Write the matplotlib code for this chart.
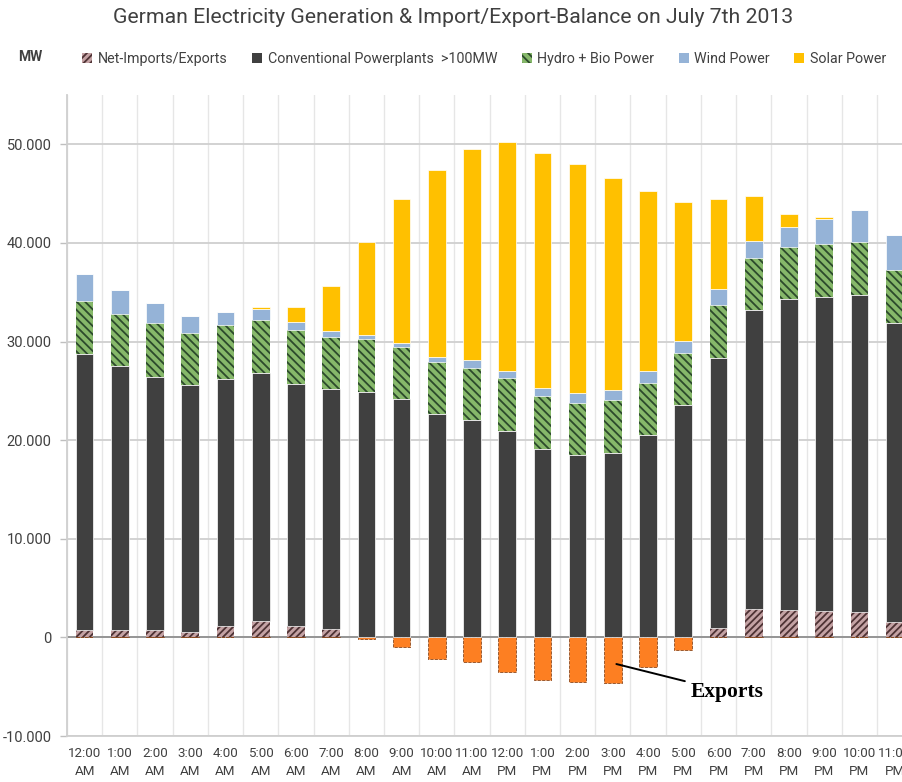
import numpy as np
import matplotlib as mpl
mpl.use('Agg')
import matplotlib.pyplot as plt
from matplotlib.patches import Patch
from matplotlib.ticker import FuncFormatter

# ── data (MW) ────────────────────────────────────────────────────────────────
hours = ['12:00\nAM', '1:00\nAM', '2:00\nAM', '3:00\nAM', '4:00\nAM', '5:00\nAM',
         '6:00\nAM', '7:00\nAM', '8:00\nAM', '9:00\nAM', '10:00\nAM', '11:00\nAM',
         '12:00\nPM', '1:00\nPM', '2:00\nPM', '3:00\nPM', '4:00\nPM', '5:00\nPM',
         '6:00\nPM', '7:00\nPM', '8:00\nPM', '9:00\nPM', '10:00\nPM', '11:00\nPM']

net_imports  = [800, 740, 740, 540, 1180, 1690, 1110, 840, -150, -1010, -2200, -2530,
                -3550, -4330, -4560, -4630, -3040, -1250, 910, 2870, 2800, 2700, 2530, 1580]
conventional = [27970, 26780, 25700, 25060, 25060, 25160, 24590, 24350, 24880, 24140, 22620, 22020,
                20930, 19080, 18470, 18670, 20530, 23540, 27460, 30290, 31550, 31810, 32220, 30330]
hydro_bio    = [5370, 5310, 5400, 5300, 5400, 5330, 5430, 5270, 5410, 5340, 5340, 5340,
                5370, 5400, 5340, 5400, 5310, 5260, 5330, 5340, 5270, 5340, 5370, 5330]
wind         = [2700, 2360, 2100, 1680, 1350, 1080, 890, 610, 410, 410, 470, 740,
                750, 850, 940, 990, 1170, 1250, 1590, 1650, 1980, 2600, 3240, 3520]
solar        = [0, 0, 0, 0, 0, 270, 1480, 4520, 9350, 14590, 18920, 21470,
                23160, 23810, 23300, 21550, 18240, 14120, 9190, 4590, 1290, 130, 0, 0]

y_ticks = [-10000, 0, 10000, 20000, 30000, 40000, 50000]

# ── style ────────────────────────────────────────────────────────────────────
C_NET_FACE  = '#c4a2a4'
C_NET_HATCH = '#4e3234'
C_CONV      = '#404040'
C_HYDRO     = '#86b86a'
C_HYDRO_H   = '#2c4a2c'
C_WIND      = '#95b3d7'
C_SOLAR     = '#ffc000'
C_EXPORT    = '#fd7f22'
C_TEXT      = '#404040'

plt.rcParams['font.family'] = ['Roboto', 'DejaVu Sans']
plt.rcParams['hatch.linewidth'] = 1.3

fig = plt.figure(figsize=(9.02, 7.82), dpi=100)
ax = fig.add_axes([0.0743, 0.0588, 0.937, 0.8197])

x = np.arange(len(hours))
W = 0.5
net = np.array(net_imports, dtype=float)
conv = np.array(conventional, dtype=float)
hyd = np.array(hydro_bio, dtype=float)
wnd = np.array(wind, dtype=float)
sol = np.array(solar, dtype=float)

pos_net = np.clip(net, 0, None)
neg_net = np.clip(net, None, 0)

# net imports (hatched) / exports (orange)
ax.bar(x, pos_net, W, color=C_NET_FACE, edgecolor=C_NET_HATCH, hatch='/////', lw=0, zorder=3)
ax.bar(x, neg_net, W, color=C_EXPORT, edgecolor='#8a4a20', lw=0.6, ls='--', zorder=3)

b1 = pos_net
ax.bar(x, conv, W, bottom=b1, color=C_CONV, edgecolor='white', lw=0.5, zorder=3)
b2 = b1 + conv
ax.bar(x, hyd, W, bottom=b2, color=C_HYDRO, edgecolor=C_HYDRO_H, hatch='\\\\\\\\', lw=0, zorder=3)
b3 = b2 + hyd
ax.bar(x, wnd, W, bottom=b3, color=C_WIND, edgecolor='white', lw=0.5, zorder=3)
b4 = b3 + wnd
ax.bar(x, sol, W, bottom=b4, color=C_SOLAR, edgecolor='white', lw=0.5, zorder=3)

# axes
ax.set_xlim(-0.5, len(hours) - 0.5)
ax.set_ylim(-10000, 55000)
ax.set_yticks(y_ticks)
ax.yaxis.set_major_formatter(FuncFormatter(lambda v, p: f'{v:,.0f}'.replace(',', '.')))
ax.set_xticks(x)
ax.set_xticklabels(hours, linespacing=1.45)
ax.set_xticks(np.arange(len(hours) + 1) - 0.5, minor=True)

ax.tick_params(axis='x', which='both', length=0, pad=8, labelsize=9.6, labelcolor=C_TEXT)
ax.tick_params(axis='y', length=5, width=1, color='#bfbfbf', pad=6, labelsize=10.5, labelcolor=C_TEXT)

ax.grid(True, axis='y', which='major', color='#cfcfcf', lw=1.3, zorder=0)
ax.grid(True, axis='x', which='minor', color='#e6e6e6', lw=1.0, zorder=0)
ax.set_axisbelow(True)
ax.axhline(0, color='#8c8c8c', lw=1.2, zorder=2)

for s in ['top', 'right']:
    ax.spines[s].set_visible(False)
ax.spines['left'].set_color('#cfcfcf')
ax.spines['bottom'].set_color('#cfcfcf')
ax.spines['left'].set_linewidth(1.3)
ax.spines['bottom'].set_linewidth(1.3)

# title, unit, legend
fig.text(0.502, 0.978, 'German Electricity Generation & Import/Export-Balance on July 7th 2013',
         ha='center', va='center', fontsize=15.3, color=C_TEXT)
fig.text(0.02, 0.927, 'MW', ha='left', va='center', fontsize=10, color=C_TEXT, weight='bold')

handles = [
    Patch(facecolor=C_NET_FACE, edgecolor=C_NET_HATCH, hatch='/////', lw=0, label='Net-Imports/Exports'),
    Patch(facecolor=C_CONV, label='Conventional Powerplants  >100MW'),
    Patch(facecolor=C_HYDRO, edgecolor=C_HYDRO_H, hatch='\\\\\\\\', lw=0, label='Hydro + Bio Power'),
    Patch(facecolor=C_WIND, label='Wind Power'),
    Patch(facecolor=C_SOLAR, label='Solar Power'),
]
leg = fig.legend(handles=handles, loc='center', bbox_to_anchor=(0.537, 0.924), ncol=5,
                 frameon=False, fontsize=10.3, handlelength=0.7, handleheight=0.7,
                 handletextpad=0.4, columnspacing=1.7)
for t in leg.get_texts():
    t.set_color(C_TEXT)

# "Exports" annotation
ax.annotate('Exports', xy=(15.1, -2700), xytext=(17.2, -5500),
            fontsize=15.5, weight='bold', family='Liberation Serif', color='black',
            ha='left', va='center',
            arrowprops=dict(arrowstyle='-', color='black', lw=1.4, shrinkA=2, shrinkB=0))

fig.savefig('out.png', dpi=100)
